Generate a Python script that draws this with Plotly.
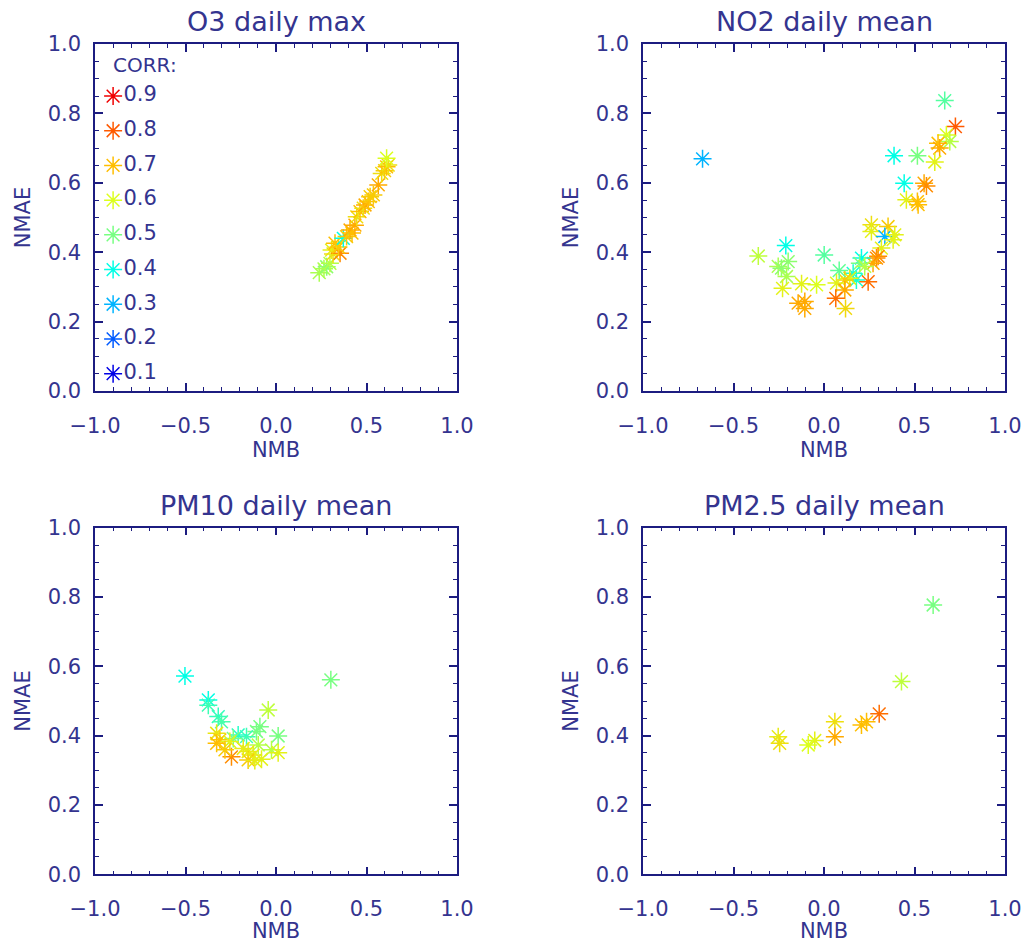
import plotly.graph_objects as go

# ---------------- data ----------------
titles = ["O3 daily max", "NO2 daily mean", "PM10 daily mean", "PM2.5 daily mean"]

o3_nmb = [0.239, 0.265, 0.280, 0.298, 0.307, 0.315, 0.326, 0.354, 0.345, 0.372, 0.390, 0.409, 0.420,
          0.436, 0.446, 0.464, 0.482, 0.492, 0.510, 0.520, 0.538, 0.565, 0.584, 0.600, 0.611, 0.620, 0.611]
o3_nmae = [0.341, 0.352, 0.358, 0.368, 0.406, 0.395, 0.426, 0.397, 0.415, 0.440, 0.445, 0.464, 0.455,
           0.478, 0.502, 0.517, 0.527, 0.536, 0.546, 0.560, 0.565, 0.594, 0.627, 0.635, 0.646, 0.651, 0.671]
o3_corr = [0.55, 0.55, 0.52, 0.56, 0.62, 0.65, 0.70, 0.75, 0.68, 0.40, 0.68, 0.72, 0.70,
           0.72, 0.65, 0.70, 0.65, 0.72, 0.70, 0.68, 0.68, 0.72, 0.65, 0.68, 0.70, 0.65, 0.60]

no2_nmb = [-0.671, 0.667, 0.726, 0.676, 0.695, 0.630, 0.639, 0.612, 0.387, 0.516, 0.443, 0.553, 0.566,
           0.455, 0.516, 0.520, 0.262, 0.262, 0.354, 0.336, 0.391, 0.382, 0.317, 0.290, 0.299, 0.271,
           0.207, 0.198, 0.225, 0.244, 0.161, 0.179, 0.142, 0.115, 0.084, 0.069, 0.115, 0.065, 0.119,
           0.001, -0.041, -0.124, -0.106, -0.143, -0.106, -0.363, -0.211, -0.253, -0.235, -0.198,
           -0.207, -0.229]
no2_nmae = [0.669, 0.837, 0.762, 0.738, 0.719, 0.714, 0.700, 0.660, 0.678, 0.678, 0.599, 0.599, 0.591,
            0.551, 0.546, 0.537, 0.479, 0.460, 0.474, 0.445, 0.450, 0.436, 0.412, 0.383, 0.388, 0.368,
            0.383, 0.368, 0.359, 0.315, 0.339, 0.320, 0.325, 0.320, 0.347, 0.311, 0.291, 0.267, 0.238,
            0.392, 0.306, 0.309, 0.258, 0.253, 0.238, 0.389, 0.419, 0.359, 0.354, 0.373, 0.330, 0.296]
no2_corr = [0.30, 0.47, 0.80, 0.60, 0.56, 0.70, 0.72, 0.62, 0.40, 0.50, 0.40, 0.72, 0.75,
            0.62, 0.70, 0.70, 0.65, 0.62, 0.68, 0.30, 0.62, 0.62, 0.62, 0.75, 0.75, 0.72,
            0.40, 0.50, 0.56, 0.78, 0.42, 0.42, 0.62, 0.68, 0.48, 0.62, 0.72, 0.78, 0.66,
            0.47, 0.60, 0.62, 0.72, 0.72, 0.72, 0.57, 0.40, 0.55, 0.52, 0.52, 0.55, 0.62]

pm10_nmb = [-0.503, 0.303, -0.374, -0.374, -0.043, -0.319, -0.301, -0.089, -0.108, 0.012, -0.163,
            -0.209, -0.236, -0.328, -0.310, -0.255, -0.328, -0.098, -0.025, 0.012, -0.246, -0.154,
            -0.126, -0.154, -0.117, -0.080, -0.181, -0.282]
pm10_nmae = [0.572, 0.561, 0.503, 0.488, 0.474, 0.455, 0.440, 0.426, 0.412, 0.399, 0.397,
             0.402, 0.392, 0.407, 0.388, 0.383, 0.378, 0.373, 0.359, 0.351, 0.339, 0.354,
             0.344, 0.330, 0.328, 0.332, 0.363, 0.359]
pm10_corr = [0.40, 0.50, 0.40, 0.45, 0.57, 0.44, 0.46, 0.50, 0.50, 0.50, 0.45,
             0.43, 0.50, 0.64, 0.68, 0.62, 0.70, 0.56, 0.56, 0.62, 0.75, 0.63,
             0.63, 0.68, 0.63, 0.62, 0.63, 0.68]

pm25_nmb = [0.603, 0.428, 0.305, 0.235, 0.207, 0.060, 0.060, -0.051, -0.087, -0.253, -0.245]
pm25_nmae = [0.777, 0.556, 0.463, 0.440, 0.431, 0.440, 0.397, 0.386, 0.373, 0.397, 0.378]
pm25_corr = [0.50, 0.57, 0.78, 0.70, 0.70, 0.65, 0.72, 0.62, 0.60, 0.63, 0.65]

legend_corr = [0.9, 0.8, 0.7, 0.6, 0.5, 0.4, 0.3, 0.2, 0.1]
legend_labels = ["0.9", "0.8", "0.7", "0.6", "0.5", "0.4", "0.3", "0.2", "0.1"]
legend_y = [0.85, 0.75, 0.65, 0.55, 0.45, 0.35, 0.25, 0.15, 0.05]
legend_x = [-0.9] * 9

# ---------------- style ----------------
TXT = "#34348f"
AX = "#1c1c80"
FONT = "DejaVu Sans"
colorscale = [
    [0.0, "rgb(0,0,230)"],
    [0.125, "rgb(0,90,255)"],
    [0.25, "rgb(0,180,255)"],
    [0.375, "rgb(0,255,230)"],
    [0.5, "rgb(120,255,130)"],
    [0.625, "rgb(220,255,30)"],
    [0.75, "rgb(255,190,0)"],
    [0.875, "rgb(255,90,0)"],
    [1.0, "rgb(240,0,0)"],
]

W, H = 1030, 943
xdom = [[95 / W, 457 / W], [643 / W, 1005 / W]]
ydom = [[1 - 391 / H, 1 - 44 / H], [1 - 874.3 / H, 1 - 527.7 / H]]
panels = [(0, 0), (1, 0), (0, 1), (1, 1)]  # (col, row)

datasets = [(o3_nmb, o3_nmae, o3_corr), (no2_nmb, no2_nmae, no2_corr),
            (pm10_nmb, pm10_nmae, pm10_corr), (pm25_nmb, pm25_nmae, pm25_corr)]


def marker(c):
    return dict(symbol="asterisk-open", size=15, color=c, colorscale=colorscale,
                cmin=0.1, cmax=0.9, line=dict(width=1.5))


fig = go.Figure()
layout = dict(template="none", width=W, height=H, margin=dict(l=0, r=0, t=0, b=0, autoexpand=False),
              paper_bgcolor="white", plot_bgcolor="white", showlegend=False,
              font=dict(family=FONT, color=TXT))
annotations = []

for i, ((col, row), (xs, ys, cs)) in enumerate(zip(panels, datasets)):
    n = "" if i == 0 else str(i + 1)
    fig.add_trace(go.Scatter(x=xs, y=ys, mode="markers", marker=marker(cs),
                             xaxis="x" + n, yaxis="y" + n, hoverinfo="x+y"))
    common = dict(showgrid=False, zeroline=False, showline=True, linecolor=AX, linewidth=1.5,
                  mirror="allticks", ticks="inside", tickcolor=AX, ticklen=8, tickwidth=1.5,
                  automargin=False,
                  tickfont=dict(family=FONT, size=21, color=TXT))
    layout["xaxis" + n] = dict(common, domain=xdom[col], range=[-1, 1], anchor="y" + n,
                               dtick=0.5, tick0=-1, tickformat=".1f", ticklabelstandoff=15,
                               minor=dict(dtick=0.1, ticks="inside", ticklen=4, tickcolor=AX, tickwidth=1.2),
                               title=dict(text="NMB", font=dict(family=FONT, size=21, color=TXT), standoff=5))
    layout["yaxis" + n] = dict(common, domain=ydom[row], range=[0, 1], anchor="x" + n,
                               dtick=0.2, tick0=0, tickformat=".1f", ticklabelstandoff=8,
                               minor=dict(dtick=0.05, ticks="inside", ticklen=4, tickcolor=AX, tickwidth=1.2),
                               title=dict(text="NMAE", font=dict(family=FONT, size=21, color=TXT), standoff=11))
    cx = (xdom[col][0] + xdom[col][1]) / 2
    ty = 1 - (22 if row == 0 else 505) / H
    annotations.append(dict(text=titles[i], x=cx, y=ty, xref="paper", yref="paper",
                            showarrow=False, xanchor="center", yanchor="middle",
                            font=dict(family=FONT, size=27, color=TXT)))

# legend inside the first panel
fig.add_trace(go.Scatter(x=legend_x, y=legend_y, mode="markers+text", marker=marker(legend_corr),
                         text=legend_labels, textposition="middle right",
                         textfont=dict(family=FONT, size=21, color=TXT),
                         xaxis="x", yaxis="y", hoverinfo="skip"))
annotations.append(dict(text="CORR:", x=-0.91, y=0.94, xref="x", yref="y", showarrow=False,
                        xanchor="left", yanchor="middle", font=dict(family=FONT, size=20, color=TXT)))

layout["annotations"] = annotations
fig.update_layout(**layout)
fig.write_html("out.html")
